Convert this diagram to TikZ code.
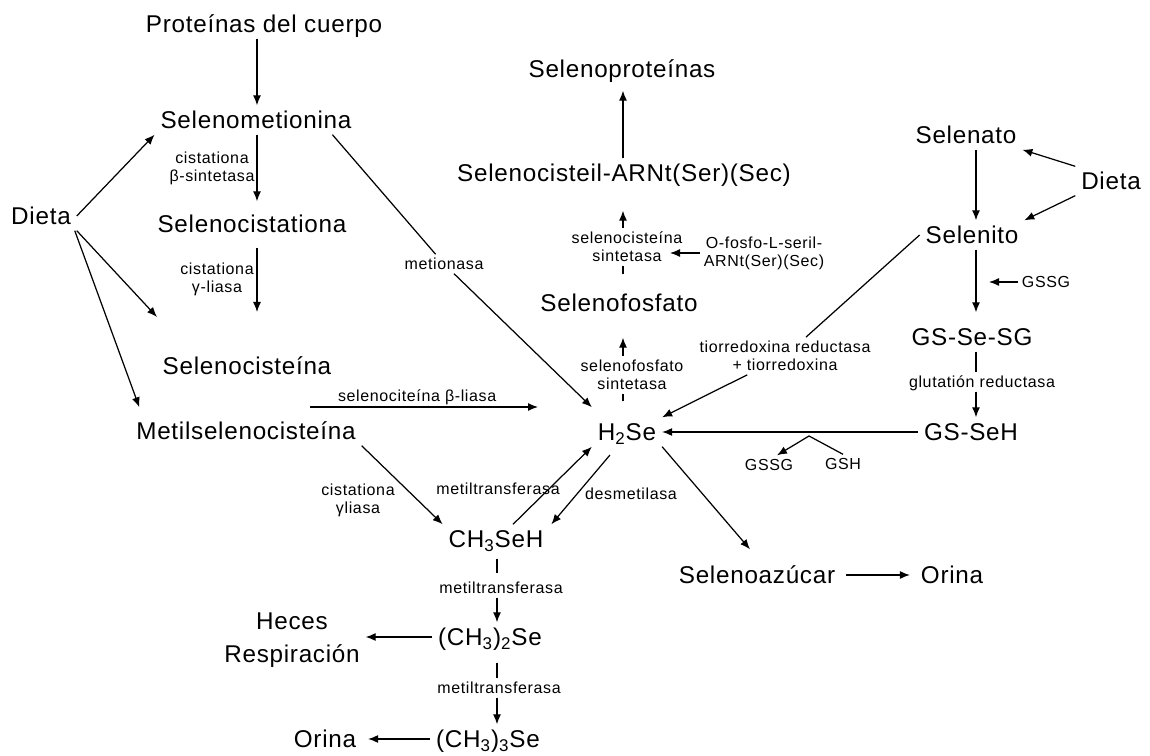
\documentclass[tikz,border=0pt]{standalone}
\usepackage{fontspec}
\setmainfont{Liberation Sans}
\newfontfamily\cmpfont{Liberation Sans}[LetterSpace=3]
\newfontfamily\enzfont{Liberation Sans}[LetterSpace=4]
\usepackage{tikz}
\usetikzlibrary{arrows.meta,calc}
\tikzset{
	cmpb/.style={font=\cmpfont\fontsize{13.8pt}{18.7pt}\selectfont, inner sep=0pt, outer sep=0.12cm},
	cmp/.style={cmpb, text height=9.9pt, text depth=0pt},
	enzb/.style={font=\enzfont\fontsize{9.1pt}{10.2pt}\selectfont, inner sep=0pt, outer sep=0.08cm},
	enz/.style={enzb, text height=6.5pt, text depth=0pt},
	enz2/.style={enzb, align=center},
	arr/.style={-{Latex[length=0.2cm, width=0.16cm]}},
}
\begin{document}
\begin{tikzpicture}[x=0.02cm, y=-0.02cm, line width=0.7pt]
				\useasboundingbox (0,0) rectangle (1150,756);
				% compuestos
				\node[cmp] at (264,24) (prot) {Proteínas del cuerpo};
				\node[cmp] at (256,120) (smet) {Selenometionina};
				\node[cmp] at (252,224) (scist) {Selenocistationa};
				\node[cmp] at (247,366) (scys) {Selenocisteína};
				\node[cmp] at (246,431) (mscys) {Metilselenocisteína};
				\node[cmp] at (41,216) (dietaL) {Dieta};
				\node[cmp] at (622,69) (sprot) {Selenoproteínas};
				\node[cmp] at (624,173) (sctrna) {Selenocisteil-ARNt(Ser)(Sec)};
				\node[cmp] at (619,303) (sfos) {Selenofosfato};
				\node[cmp] at (627,432) (h2se) {H\textsubscript{2}Se};
				\node[cmp] at (496,539) (ch3seh) {CH\textsubscript{3}SeH};
				\node[cmp] at (490,637) (dm2se) {(CH\textsubscript{3})\textsubscript{2}Se};
				\node[cmp] at (488,739) (tm3se) {(CH\textsubscript{3})\textsubscript{3}Se};
				\node[cmpb, align=center] at (292,640) (heces) {Heces\\Respiración};
				\node[cmp] at (325,739) (orinaL) {Orina};
				\node[cmp] at (757,575) (sazu) {Selenoazúcar};
				\node[cmp] at (952,575) (orinaR) {Orina};
				\node[cmp] at (966,135) (selnato) {Selenato};
				\node[cmp] at (1111,181) (dietaR) {Dieta};
				\node[cmp] at (972,235) (selnito) {Selenito};
				\node[cmp] at (972,337) (gsesg) {GS-Se-SG};
				\node[cmp] at (971,432) (gseh) {GS-SeH};
				% enzimas
				\node[enz2] at (212,168) (cbs) {cistationa\\β-sintetasa};
				\node[enz2] at (217,279) (cgl1) {cistationa\\γ-liasa};
				\node[enz] at (444,264) (mtn) {metionasa};
				\node[enz2] at (358,500) (cgl2) {cistationa\\γliasa};
				\node[enz] at (498,489) (mt0) {metiltransferasa};
				\node[enz] at (631,494) (dml) {desmetilasa};
				\node[enz] at (501,588) (mt1) {metiltransferasa};
				\node[enz] at (499,688) (mt2) {metiltransferasa};
				\node[enz2] at (632,375) (sps) {selenofosfato\\sintetasa};
				\node[enz2] at (627,247) (secs) {selenocisteína\\sintetasa};
				\node[enz2] at (764,253) (ofos) {O-fosfo-L-seril-\\ARNt(Ser)(Sec)};
				\node[enz2] at (785,356) (trx) {tiorredoxina reductasa\\+ tiorredoxina};
				\node[enz] at (1046,282) (gssg1) {GSSG};
				\node[enz] at (982,382) (gred) {glutatión reductasa};
				\node[enz] at (769,465) (gssg2) {GSSG};
				\node[enz] at (843,464) (gsh) {GSH};
				% columnas y extremos libres
				\coordinate (cL) at (257,0);
				\coordinate (cM) at (497,0);
				\coordinate (cS) at (623,0);
				\coordinate (cR) at (976,0);
				\coordinate (cysTip) at (257,312);
				\coordinate (dCys) at (157,317);
				\coordinate (bl0) at (310,407);
				\coordinate (bl1) at (538,407);
				\coordinate (secsIn) at (670,253);
				\coordinate (gIn) at (989,282);
				\coordinate (gv) at (809,436);
				% ruta izquierda
				\draw[arr] (cL |- prot.south) -- (cL |- smet.north);
				\draw[arr, shorten >=0.16cm] (cL |- smet.south) -- (cL |- scist.north);
				\draw[arr, shorten <=0.18cm] (cL |- scist.south) -- (cysTip);
				\draw[arr] (dietaL.east) -- (smet.south west);
				\draw[arr] (dietaL.south east) -- (dCys);
				\draw[arr] ([xshift=-0.04cm]dietaL.south east) -- ([xshift=0.18cm, yshift=0.18cm]mscys.north west);
				\draw (smet.south east) ++(-0.5cm,0) coordinate (smetOut);
				\draw (smetOut) -- (mtn);
				\draw[arr] (mtn) -- ([yshift=0.2cm]h2se.north west);
				\draw[arr] (bl0) -- (bl1) node[enz, pos=0.47, above=0.02cm] (bliasa) {selenociteína β-liasa};
				\draw[arr] (mscys.south east) -- (ch3seh.north west);
				% metilados
				\draw[arr] ([xshift=0.34cm]ch3seh.north) -- (h2se.south west);
				\draw[arr, shorten <=0.22cm] ([xshift=-0.2cm]h2se.south) -- ([xshift=0.04cm]ch3seh.north east);
				\draw[shorten <=0.1cm, shorten >=0.1cm] (cM |- ch3seh.south) -- (cM |- mt1.north);
				\draw[arr] (cM |- mt1.south) -- (cM |- dm2se.north);
				\draw[shorten <=0.22cm] (cM |- dm2se.south) -- (cM |- mt2.north);
				\draw[arr] (cM |- mt2.south) -- (cM |- tm3se.north);
				\draw[arr] (dm2se.west) -- (dm2se.west -| heces.east);
				\draw[arr, shorten >=0.12cm] (tm3se) -- (orinaL);
				\draw[arr] (h2se.south east) -- ([xshift=-0.14cm, yshift=0.22cm]sazu.north);
				\draw[arr, shorten <=0.1cm, shorten >=0.1cm] (sazu) -- (orinaR);
				% selenoproteinas
				\draw[shorten <=0.32cm] (cS |- h2se.north) -- (cS |- sps.south);
				\draw[arr, shorten >=0.4cm] (cS |- sps.north) -- (cS |- sfos.south);
				\draw[shorten <=0.28cm] (cS |- sfos.north) -- (cS |- secs.south);
				\draw[arr, shorten >=0.46cm] (cS |- secs.north) -- (cS |- sctrna.south);
				\draw[arr, shorten >=0.14cm] (cS |- sctrna.north) -- (cS |- sprot.south);
				\draw[arr] (ofos.west) -- (secsIn);
				% selenato y selenito
				\draw[arr] (dietaR.north west) -- (selnato.south east);
				\draw[arr] (dietaR.south west) -- (selnito.north east);
				\draw[arr] (cR |- selnato.south) -- (cR |- selnito.north);
				\draw[arr, shorten >=0.2cm] (cR |- selnito.south) -- (cR |- gsesg.north);
				\draw[arr] (gssg1.west) -- (gIn);
				\draw (cR |- gsesg.south) -- (cR |- gred.north);
				\draw[arr] (cR |- gred.south) -- (cR |- gseh.north);
				\draw[arr] (gseh) -- (h2se);
				\draw[arr] (gsh.north) -- (gv) -- ([xshift=0.16cm]gssg2.north);
				\draw (selnito.west) -- (trx);
				\draw[arr] (trx) -- (h2se.north east);
			\end{tikzpicture}
\end{document}
